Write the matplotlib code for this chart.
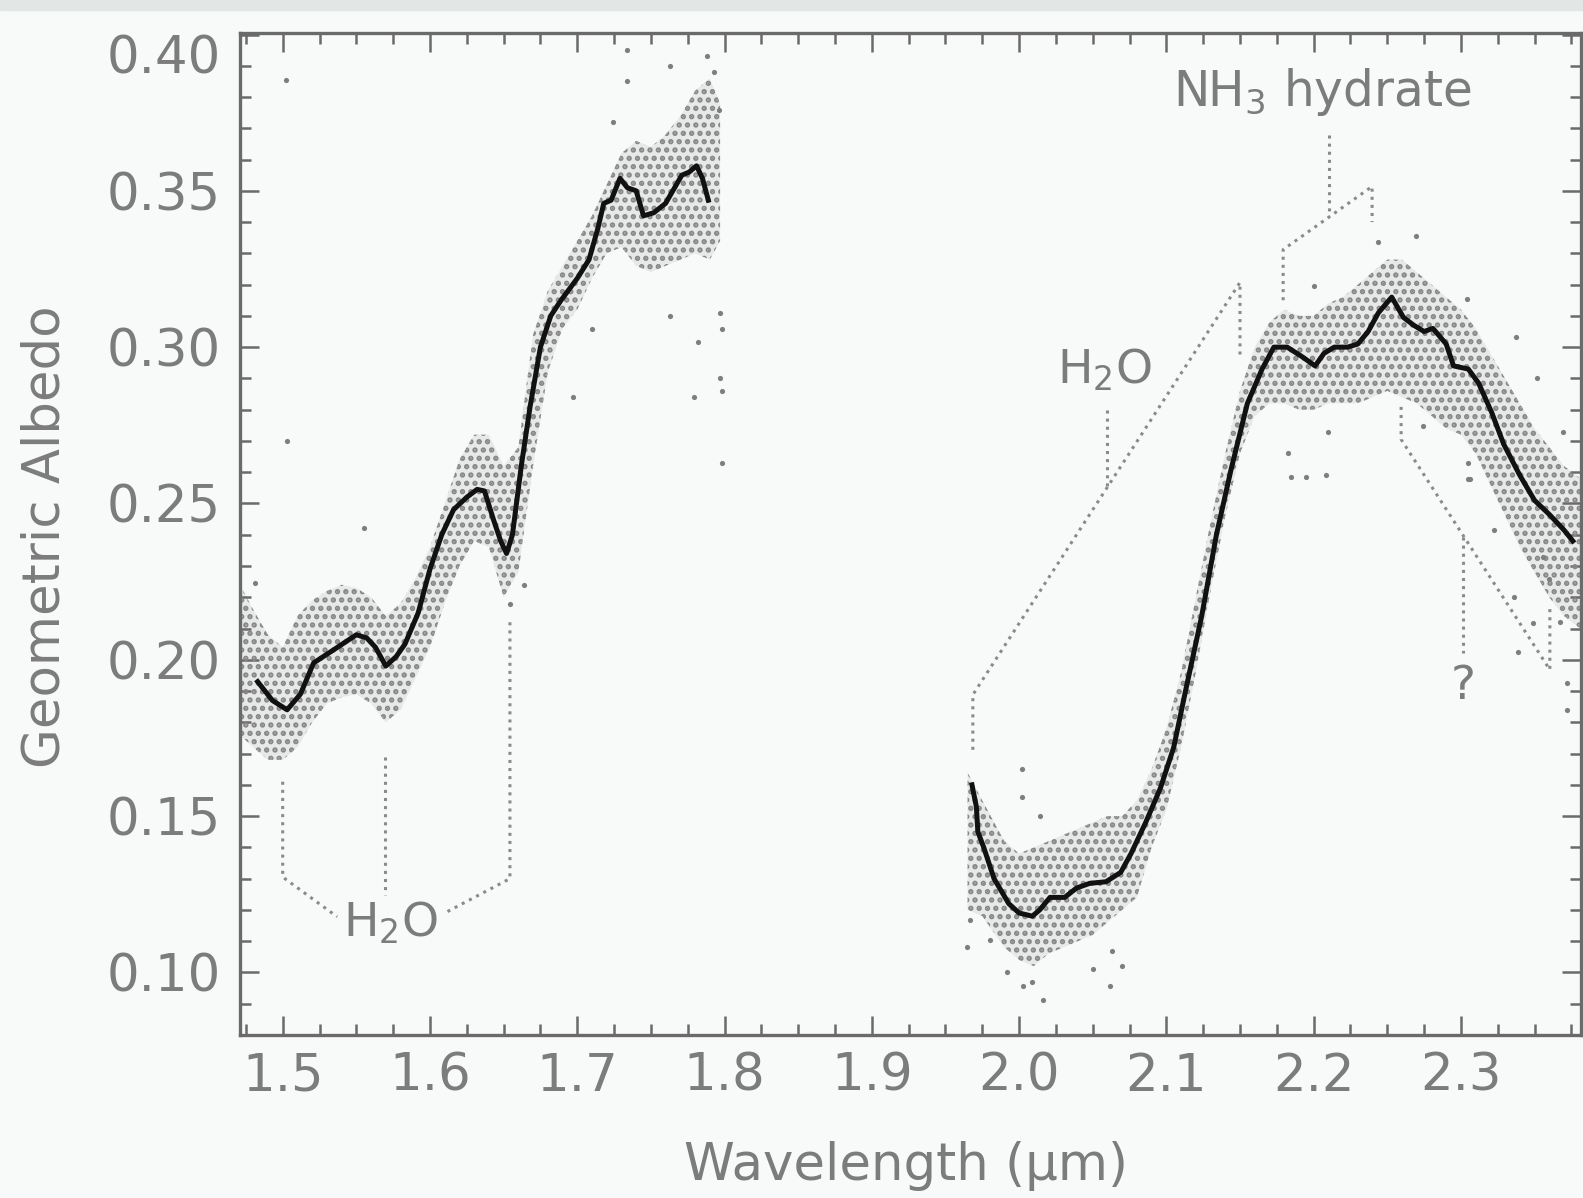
import matplotlib
matplotlib.use('Agg')
import matplotlib.pyplot as plt
from matplotlib.ticker import MultipleLocator, FormatStrFormatter

# smoothed spectrum, short-wavelength window
wl_a = [1.483, 1.493, 1.503, 1.512, 1.521, 1.534, 1.550, 1.557, 1.563, 1.570,
        1.577, 1.583, 1.592, 1.600, 1.608, 1.616, 1.625, 1.632, 1.637, 1.643,
        1.648, 1.652, 1.656, 1.662, 1.668, 1.675, 1.682, 1.689, 1.700, 1.708,
        1.714, 1.718, 1.723, 1.729, 1.734, 1.740, 1.745, 1.752, 1.760, 1.771,
        1.776, 1.781, 1.785, 1.789]
alb_a = [0.193, 0.187, 0.184, 0.189, 0.199, 0.203, 0.208, 0.207, 0.204, 0.198,
         0.201, 0.205, 0.215, 0.229, 0.240, 0.248, 0.252, 0.2545, 0.254, 0.245,
         0.238, 0.234, 0.240, 0.262, 0.281, 0.300, 0.310, 0.315, 0.322, 0.328,
         0.338, 0.346, 0.347, 0.354, 0.351, 0.350, 0.342, 0.343, 0.346, 0.355,
         0.356, 0.358, 0.354, 0.347]

# smoothed spectrum, long-wavelength window
wl_b = [1.968, 1.971, 1.972, 1.976, 1.983, 1.993, 2.000, 2.009, 2.014, 2.021,
        2.031, 2.039, 2.048, 2.059, 2.069, 2.076, 2.086, 2.096, 2.105, 2.113,
        2.124, 2.134, 2.144, 2.155, 2.165, 2.173, 2.182, 2.192, 2.201, 2.207,
        2.214, 2.223, 2.230, 2.237, 2.244, 2.253, 2.261, 2.268, 2.275, 2.281,
        2.290, 2.295, 2.305, 2.312, 2.321, 2.329, 2.340, 2.350, 2.360, 2.370,
        2.376]
alb_b = [0.160, 0.153, 0.145, 0.140, 0.130, 0.122, 0.119, 0.118, 0.120, 0.124,
         0.124, 0.127, 0.1285, 0.129, 0.132, 0.138, 0.148, 0.159, 0.172, 0.190,
         0.214, 0.240, 0.261, 0.282, 0.293, 0.300, 0.300, 0.297, 0.294, 0.298,
         0.300, 0.300, 0.301, 0.305, 0.311, 0.316, 0.3095, 0.307, 0.305, 0.306,
         0.301, 0.294, 0.293, 0.2885, 0.279, 0.269, 0.259, 0.251, 0.2465, 0.2415,
         0.238]

# extent of the dense raw-data cloud
cloud_a_wl = [1.471, 1.48, 1.49, 1.50, 1.51, 1.52, 1.53, 1.54, 1.55, 1.56, 1.57,
              1.58, 1.59, 1.60, 1.61, 1.62, 1.63, 1.64, 1.65, 1.66, 1.67, 1.68,
              1.69, 1.70, 1.71, 1.72, 1.73, 1.74, 1.75, 1.76, 1.77, 1.78, 1.79,
              1.797]
cloud_a_hi = [0.224, 0.216, 0.208, 0.204, 0.214, 0.219, 0.222, 0.224, 0.223, 0.220,
              0.214, 0.218, 0.226, 0.236, 0.250, 0.264, 0.272, 0.272, 0.262, 0.268,
              0.304, 0.318, 0.326, 0.334, 0.342, 0.352, 0.362, 0.366, 0.364, 0.368,
              0.374, 0.382, 0.386, 0.378]
cloud_a_lo = [0.176, 0.172, 0.168, 0.168, 0.172, 0.180, 0.186, 0.188, 0.189, 0.186,
              0.180, 0.184, 0.194, 0.204, 0.218, 0.230, 0.238, 0.236, 0.220, 0.228,
              0.262, 0.292, 0.306, 0.312, 0.322, 0.330, 0.332, 0.326, 0.324, 0.326,
              0.328, 0.330, 0.328, 0.334]

cloud_b_wl = [1.965, 1.975, 1.99, 2.00, 2.01, 2.02, 2.03, 2.04, 2.05, 2.06, 2.07,
              2.08, 2.09, 2.10, 2.11, 2.12, 2.13, 2.14, 2.15, 2.16, 2.17, 2.18,
              2.19, 2.20, 2.21, 2.22, 2.23, 2.24, 2.25, 2.26, 2.27, 2.28, 2.29,
              2.30, 2.31, 2.32, 2.33, 2.34, 2.35, 2.36, 2.37, 2.381]
cloud_b_hi = [0.164, 0.155, 0.142, 0.138, 0.140, 0.142, 0.144, 0.146, 0.148, 0.150,
              0.150, 0.155, 0.165, 0.178, 0.196, 0.220, 0.244, 0.266, 0.286, 0.300,
              0.308, 0.312, 0.310, 0.310, 0.314, 0.316, 0.320, 0.324, 0.328, 0.328,
              0.324, 0.320, 0.316, 0.312, 0.306, 0.298, 0.290, 0.282, 0.274, 0.268,
              0.262, 0.258]
cloud_b_lo = [0.120, 0.118, 0.108, 0.104, 0.102, 0.106, 0.108, 0.110, 0.112, 0.116,
              0.120, 0.124, 0.140, 0.152, 0.172, 0.196, 0.222, 0.246, 0.266, 0.278,
              0.282, 0.282, 0.280, 0.280, 0.282, 0.282, 0.282, 0.284, 0.286, 0.284,
              0.282, 0.278, 0.274, 0.272, 0.266, 0.256, 0.246, 0.236, 0.228, 0.220,
              0.214, 0.210]

# isolated raw points lying outside the dense cloud
stray_wl = [1.502, 1.503, 1.555, 1.481, 1.654, 1.664, 1.697, 1.710, 1.724, 1.734,
            1.734, 1.763, 1.763, 1.779, 1.782, 1.788, 1.793, 1.796, 1.797, 1.798,
            1.798, 1.798, 1.797,
            1.9645, 1.9667, 1.980, 1.9917, 2.0022, 2.0022, 2.0027, 2.0087, 2.016,
            2.0142, 2.050, 2.0617, 2.063, 2.0698,
            2.1828, 2.1848, 2.195, 2.2085, 2.2004, 2.2098, 2.2436, 2.2694, 2.274,
            2.304, 2.3046, 2.3046, 2.306, 2.3226, 2.3362, 2.3376, 2.3388, 2.349,
            2.3516, 2.3557, 2.360, 2.367, 2.369, 2.372, 2.372]
stray_alb = [0.3855, 0.270, 0.242, 0.2245, 0.218, 0.224, 0.284, 0.3057, 0.372, 0.395,
             0.385, 0.390, 0.310, 0.284, 0.3015, 0.393, 0.388, 0.376, 0.311, 0.263,
             0.286, 0.3057, 0.290,
             0.108, 0.1168, 0.1104, 0.100, 0.165, 0.156, 0.0955, 0.0968, 0.0913,
             0.150, 0.1012, 0.0955, 0.107, 0.102,
             0.2663, 0.2586, 0.2586, 0.2592, 0.3195, 0.2727, 0.3335, 0.3354, 0.2747,
             0.3153, 0.263, 0.2577, 0.2577, 0.2416, 0.2202, 0.3034, 0.2026, 0.2118,
             0.290, 0.233, 0.2257, 0.212, 0.2727, 0.184, 0.1927]

y_ticks = [0.10, 0.15, 0.20, 0.25, 0.30, 0.35, 0.40]

txt = '#7c7c7c'
ann = '#8a8a8a'
plt.rcParams['font.family'] = 'DejaVu Sans'
plt.rcParams['mathtext.default'] = 'regular'
plt.rcParams['hatch.linewidth'] = 2.6

fig = plt.figure(figsize=(15.83, 11.98), dpi=100, facecolor='#f8faf9')
ax = fig.add_axes([0.1516, 0.1361, 0.8471, 0.8364], facecolor='#f8faf9')
fig.patches.append(plt.Rectangle((0, 0.992), 1, 0.008, transform=fig.transFigure,
                                 color='#e2e6e4', zorder=0))

# raw data cloud
for cw, lo, hi in [(cloud_a_wl, cloud_a_lo, cloud_a_hi),
                   (cloud_b_wl, cloud_b_lo, cloud_b_hi)]:
    ax.fill_between(cw, lo, hi, facecolor='#dadcdb', edgecolor='none', lw=0,
                    alpha=0.55, zorder=1)
    ax.fill_between(cw, lo, hi, facecolor='none', edgecolor='#878787', lw=0,
                    hatch='..', zorder=2)
ax.scatter(stray_wl, stray_alb, s=14, color='#7e7e7e', lw=0, zorder=2)

# smoothed spectrum
ax.plot(wl_a, alb_a, color='#111111', lw=3.6, zorder=4, solid_joinstyle='round')
ax.plot(wl_b, alb_b, color='#111111', lw=3.6, zorder=4, solid_joinstyle='round')

# band identifications
dot = dict(color=ann, ls=':', lw=2.2, zorder=3)
ax.plot([1.50, 1.50, 1.537], [0.161, 0.1305, 0.1178], **dot)
ax.plot([1.5695, 1.5695], [0.169, 0.1247], **dot)
ax.plot([1.6543, 1.6543, 1.610], [0.212, 0.130, 0.119], **dot)
ax.text(1.573, 0.1156, 'H$_2$O', color=txt, fontsize=34, ha='center', va='center')

ax.plot([1.9686, 1.9686, 2.150, 2.150], [0.1712, 0.1888, 0.3207, 0.297], **dot)
ax.plot([2.0597, 2.0597], [0.280, 0.255], **dot)
ax.text(2.058, 0.2925, 'H$_2$O', color=txt, fontsize=34, ha='center', va='center')

ax.plot([2.1793, 2.1793, 2.2397, 2.2397], [0.315, 0.3312, 0.3514, 0.340], **dot)
ax.plot([2.2107, 2.2107], [0.368, 0.342], **dot)
ax.text(2.2056, 0.3815, 'NH$_3$ hydrate', color=txt, fontsize=35, ha='center', va='center')

ax.plot([2.2594, 2.2594, 2.3604, 2.3604], [0.2809, 0.2705, 0.1968, 0.2176], **dot)
ax.plot([2.3016, 2.3016], [0.2394, 0.2023], **dot)
ax.text(2.3016, 0.1914, '?', color=txt, fontsize=34, ha='center', va='center')

ax.set_xlim(1.471, 2.3815)
ax.set_ylim(0.08, 0.4005)
ax.xaxis.set_major_locator(MultipleLocator(0.1))
ax.xaxis.set_minor_locator(MultipleLocator(0.025))
ax.set_yticks(y_ticks)
ax.yaxis.set_minor_locator(MultipleLocator(0.01))
ax.xaxis.set_major_formatter(FormatStrFormatter('%.1f'))
ax.yaxis.set_major_formatter(FormatStrFormatter('%.2f'))
ax.tick_params(which='both', direction='in', top=True, right=True,
               color='#6a6a6a', labelcolor=txt, labelsize=37)
ax.tick_params(which='major', length=14, width=1.8)
ax.tick_params(which='minor', length=8, width=1.8)
ax.tick_params(axis='x', pad=12)
ax.tick_params(axis='y', pad=14)
# top label sits just under its tick, as in the original
ax.yaxis.get_major_ticks()[-1].label1.set_verticalalignment('top')
for sp in ax.spines.values():
    sp.set_color('#6a6a6a')
    sp.set_linewidth(2.4)

fig.text(906 / 1583, 1 - 1166 / 1198, 'Wavelength (μm)', color=txt, fontsize=37,
         ha='center', va='center')
fig.text(45.5 / 1583, 1 - 537 / 1198, 'Geometric Albedo', color=txt, fontsize=37,
         ha='center', va='center', rotation=90)

fig.savefig('out.png', dpi=100, facecolor=fig.get_facecolor())
